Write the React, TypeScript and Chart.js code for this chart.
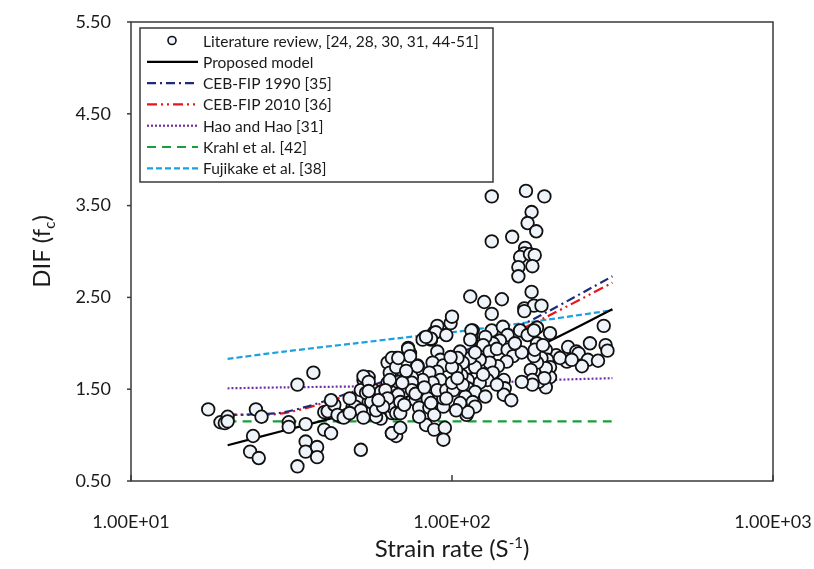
import React, { useEffect, useRef } from "react";
import { Chart, registerables } from "chart.js";
Chart.register(...registerables);

const FONT = "Lato, 'Open Sans', sans-serif";

// Axis ticks
const xTickValues = [10, 100, 1000];
const xTickLabels = ["1.00E+01", "1.00E+02", "1.00E+03"];
const yTickValues = [0.5, 1.5, 2.5, 3.5, 4.5, 5.5];
const yTickLabels = ["0.50", "1.50", "2.50", "3.50", "4.50", "5.50"];

// Literature review points: [strain rate, DIF]
const literaturePoints: [number, number][] = [
  [17.4, 1.28], [19, 1.14], [20, 1.2], [19.6, 1.13], [20, 1.15], [24.5, 1.28], [25.5, 1.2], [24, 0.99],
  [23.5, 0.82], [25, 0.75], [33, 1.55], [37, 1.68], [31, 1.14], [31, 1.09], [35, 1.12], [35, 0.93],
  [35, 0.82], [38, 0.87], [38, 0.76], [33, 0.66], [40, 1.06], [42, 1.02], [40, 1.25], [41, 1.26],
  [52, 0.84], [43, 1.33], [42, 1.38], [45, 1.2], [47, 1.22], [49, 1.3], [51, 1.4], [53, 1.6],
  [55, 1.63], [57, 1.49], [52, 1.49], [50, 1.31], [55, 1.36], [56, 1.27], [60, 1.3], [60, 1.18],
  [58, 1.2], [62, 1.42], [63, 1.57], [65, 1.63], [67, 1.84], [63, 1.79], [65, 1.02], [67, 0.99],
  [65, 1.24], [53, 1.64], [55, 1.58], [54, 1.46], [52, 1.27], [53, 1.19], [56, 1.36], [58, 1.27],
  [60, 1.47], [63, 1.38], [65, 1.31], [67, 1.24], [55, 1.48], [48, 1.4], [44, 1.22], [46, 1.19],
  [48, 1.24], [64, 1.68], [68, 1.58],
  [65, 1.84], [67, 1.74], [73, 1.95], [74, 1.89], [78, 1.76], [82, 2.06], [86, 2.04], [88, 2.12],
  [90, 1.91], [92, 1.82], [87, 1.79], [94, 1.76], [90, 1.69], [92, 1.6], [85, 1.68], [87, 1.57],
  [81, 1.6], [75, 1.63], [75, 1.57], [80, 1.49], [75, 1.49], [70, 1.57], [64, 1.6], [62, 1.49],
  [68, 1.44], [69, 1.36], [63, 1.4], [61, 1.31], [69, 1.24], [77, 1.38], [79, 1.3], [84, 1.4],
  [85, 1.3], [88, 1.22], [94, 1.31], [94, 1.4], [90, 1.49], [96, 1.49], [65, 1.02], [69, 1.08],
  [83, 1.11], [88, 1.06], [95, 1.08], [94, 0.95], [73, 1.94], [74, 1.86], [78, 1.75], [68, 1.84],
  [84, 2.07], [81, 2.04], [90, 2.19], [89, 2.12], [96, 2.09], [99, 2.22], [100, 2.29], [86, 2.05],
  [83, 2.07], [72, 1.7], [77, 1.45], [82, 1.52], [71, 1.33], [86, 1.35], [79, 1.2], [59, 1.38],
  [111, 1.22], [112, 1.31], [133, 2.14], [144, 2.18], [149, 2.09], [141, 2.03], [134, 2.0], [127, 2.07],
  [116, 2.14], [115, 2.06], [122, 1.93], [125, 1.98], [131, 1.91], [138, 1.94], [149, 1.93], [155, 1.86],
  [148, 1.8], [139, 1.75], [131, 1.79], [122, 1.82], [118, 1.74], [114, 1.84], [108, 1.79], [106, 1.91],
  [104, 1.84], [118, 1.9], [134, 1.68], [129, 1.6], [145, 1.6], [146, 1.51], [145, 1.44], [153, 1.38],
  [122, 1.57], [112, 1.6], [112, 1.51], [118, 1.47], [110, 1.42], [116, 1.36], [118, 1.31], [112, 1.25],
  [106, 1.35], [103, 1.27], [101, 1.49], [107, 1.65], [103, 1.71], [100, 1.57], [96, 1.4], [100, 1.74],
  [99, 1.85], [114, 2.51], [126, 2.45], [143, 2.48], [133, 2.32], [115, 2.14], [114, 2.04],
  [108, 1.55], [125, 1.66], [138, 1.55], [127, 1.42], [104, 1.62],
  [177, 2.56], [168, 2.38], [180, 2.41], [190, 2.41], [168, 2.35], [133, 3.6], [170, 3.66], [194, 3.6],
  [177, 3.43], [172, 3.31], [183, 3.22], [133, 3.11], [154, 3.16], [169, 3.04], [168, 2.98], [163, 2.94],
  [175, 2.97], [181, 2.96], [161, 2.83], [178, 2.84], [161, 2.73],
  [202, 2.11], [297, 2.19], [269, 2.0], [301, 1.98], [305, 1.92], [230, 1.96], [244, 1.91], [248, 1.89],
  [265, 1.82], [285, 1.81], [254, 1.75], [228, 1.8], [211, 1.87], [196, 1.93], [198, 1.82], [202, 1.74],
  [190, 1.84], [196, 1.65], [202, 1.63], [196, 1.52], [186, 1.58], [184, 2.0], [184, 2.17], [217, 1.84],
  [236, 1.82], [196, 1.73], [194, 1.62], [184, 1.79], [176, 1.71], [178, 1.6], [178, 1.55], [165, 1.58],
  [180, 1.86], [181, 1.93], [165, 1.9], [157, 2.0], [163, 2.14], [172, 2.09], [180, 2.14], [192, 1.98],
];

// Model curves
const modelRates = [20, 30, 50, 70, 100, 150, 200, 316];
const proposedDIF = [0.89, 1.05, 1.25, 1.4, 1.6, 1.83, 2.02, 2.37];
const ceb1990DIF = [1.22, 1.25, 1.48, 1.66, 1.86, 2.13, 2.35, 2.73];
const ceb2010DIF = [1.22, 1.24, 1.46, 1.63, 1.83, 2.09, 2.3, 2.66];
const haoDIF = [1.51, 1.52, 1.53, 1.54, 1.56, 1.58, 1.6, 1.62];
const krahlDIF = [1.15, 1.15, 1.15, 1.15, 1.15, 1.15, 1.15, 1.15];
const fujikakeDIF = [1.83, 1.91, 2.0, 2.06, 2.12, 2.2, 2.26, 2.36];

const seriesLabels = [
  "Literature review, [24, 28, 30, 31, 44-51]",
  "Proposed model",
  "CEB-FIP 1990 [35]",
  "CEB-FIP 2010 [36]",
  "Hao and Hao [31]",
  "Krahl et al. [42]",
  "Fujikake et al. [38]",
];

const toXY = (ys: number[]) => modelRates.map((x, i) => ({ x, y: ys[i] }));

const lineStyles = [
  { data: proposedDIF, color: "#000000", dash: [] as number[], width: 2.2 },
  { data: ceb1990DIF, color: "#1f2a7a", dash: [9, 4, 2, 4], width: 2.2 },
  { data: ceb2010DIF, color: "#e8141c", dash: [10, 4, 2, 4, 2, 4], width: 2.2 },
  { data: haoDIF, color: "#7030a0", dash: [2, 2], width: 2.2 },
  { data: krahlDIF, color: "#1a9e3a", dash: [9, 6], width: 2.2 },
  { data: fujikakeDIF, color: "#1ba0e2", dash: [6, 3], width: 2.2 },
];

const decorPlugin = {
  id: "decor",
  afterDatasetsDraw(chart: any) {
    const { ctx, chartArea: a, scales } = chart;
    ctx.save();
    ctx.strokeStyle = "#3a3a3a";
    ctx.lineWidth = 1.5;
    ctx.strokeRect(a.left, a.top, a.right - a.left, a.bottom - a.top);
    scales.y.ticks.forEach((t: any) => {
      const py = scales.y.getPixelForValue(t.value);
      ctx.beginPath();
      ctx.moveTo(a.left - 4, py);
      ctx.lineTo(a.left, py);
      ctx.stroke();
    });
    scales.x.ticks.forEach((t: any) => {
      const px = scales.x.getPixelForValue(t.value);
      ctx.beginPath();
      ctx.moveTo(px, a.bottom);
      ctx.lineTo(px, a.bottom - 6);
      ctx.stroke();
    });
    ctx.restore();
  },
  afterDraw(chart: any) {
    const { ctx, chartArea: a } = chart;
    ctx.save();
    ctx.fillStyle = "#1a1a1a";
    ctx.textBaseline = "alphabetic";

    // Y title: DIF (f_c)
    ctx.translate(50, (a.top + a.bottom) / 2);
    ctx.rotate(-Math.PI / 2);
    const big = `24px ${FONT}`;
    const small = `15px ${FONT}`;
    ctx.font = big;
    const p1 = "DIF (f";
    const p3 = ")";
    const w1 = ctx.measureText(p1).width;
    const w3 = ctx.measureText(p3).width;
    ctx.font = small;
    const w2 = ctx.measureText("c").width;
    const sx = -(w1 + w2 + w3) / 2;
    ctx.font = big;
    ctx.fillText(p1, sx, 0);
    ctx.font = small;
    ctx.fillText("c", sx + w1, 5);
    ctx.font = big;
    ctx.fillText(p3, sx + w1 + w2, 0);
    ctx.restore();

    // X title: Strain rate (S^-1)
    ctx.save();
    ctx.fillStyle = "#1a1a1a";
    const q1 = "Strain rate (S";
    const q2 = "-1";
    const q3 = ")";
    ctx.font = big;
    const v1 = ctx.measureText(q1).width;
    const v3 = ctx.measureText(q3).width;
    ctx.font = small;
    const v2 = ctx.measureText(q2).width;
    const cx = (a.left + a.right) / 2;
    const tx = cx - (v1 + v2 + v3) / 2;
    const ty = 557;
    ctx.font = big;
    ctx.fillText(q1, tx, ty);
    ctx.font = small;
    ctx.fillText(q2, tx + v1, ty - 9);
    ctx.font = big;
    ctx.fillText(q3, tx + v1 + v2, ty);
    ctx.restore();

    // Legend
    ctx.save();
    const bx = 140, by = 28, bw = 353, bh = 154;
    ctx.fillStyle = "#ffffff";
    ctx.fillRect(bx, by, bw, bh);
    ctx.strokeStyle = "#3a3a3a";
    ctx.lineWidth = 1.5;
    ctx.strokeRect(bx, by, bw, bh);
    const rowH = 21.3;
    const y0 = 40.5;
    ctx.font = `15.5px ${FONT}`;
    ctx.textBaseline = "middle";
    seriesLabels.forEach((label, i) => {
      const yy = y0 + i * rowH;
      if (i === 0) {
        ctx.beginPath();
        ctx.arc(172, yy, 4, 0, Math.PI * 2);
        ctx.fillStyle = "#eef4fa";
        ctx.fill();
        ctx.strokeStyle = "#111";
        ctx.lineWidth = 1.6;
        ctx.stroke();
      } else {
        const st = lineStyles[i - 1];
        ctx.beginPath();
        ctx.setLineDash(st.dash);
        ctx.strokeStyle = st.color;
        ctx.lineWidth = 2.2;
        ctx.moveTo(147, yy);
        ctx.lineTo(198, yy);
        ctx.stroke();
        ctx.setLineDash([]);
      }
      ctx.fillStyle = "#1a1a1a";
      ctx.fillText(label, 203, yy + 1);
    });
    ctx.restore();
  },
};

export default function App() {
  const ref = useRef<HTMLCanvasElement | null>(null);
  useEffect(() => {
    if (!ref.current) return;
    const datasets: any[] = [
      {
        type: "scatter",
        label: seriesLabels[0],
        data: literaturePoints.map(([x, y]) => ({ x, y })),
        pointRadius: 6.3,
        pointBackgroundColor: "#eef4fa",
        pointBorderColor: "#111111",
        pointBorderWidth: 1.8,
        showLine: false,
      },
      ...lineStyles.map((s, i) => ({
        type: "line",
        label: seriesLabels[i + 1],
        data: toXY(s.data),
        borderColor: s.color,
        borderDash: s.dash,
        borderWidth: s.width,
        pointRadius: 0,
        fill: false,
        tension: 0.3,
      })),
    ];
    const chart = new Chart(ref.current, {
      type: "scatter",
      data: { datasets },
      options: {
        animation: false,
        responsive: true,
        maintainAspectRatio: false,
        layout: { padding: { left: 0, right: 41, top: 22, bottom: 0 } },
        plugins: { legend: { display: false }, tooltip: { enabled: false } },
        scales: {
          x: {
            type: "logarithmic",
            min: 10,
            max: 1000,
            afterBuildTicks: (s: any) => {
              s.ticks = xTickValues.map((v) => ({ value: v }));
            },
            afterFit: (s: any) => {
              s.height = 88;
              s.paddingLeft = 0;
              s.paddingRight = 0;
              s.paddingTop = 0;
              s.paddingBottom = 0;
            },
            ticks: {
              autoSkip: false,
              maxRotation: 0,
              padding: 30,
              color: "#1a1a1a",
              font: { family: FONT, size: 18 },
              callback: (v: any) => xTickLabels[xTickValues.indexOf(Number(v))] ?? "",
            },
            grid: { display: false, drawTicks: false },
            border: { display: false },
          },
          y: {
            type: "linear",
            min: 0.5,
            max: 5.5,
            afterBuildTicks: (s: any) => {
              s.ticks = yTickValues.map((v) => ({ value: v }));
            },
            afterFit: (s: any) => {
              s.width = 131;
              s.paddingLeft = 0;
              s.paddingRight = 0;
              s.paddingTop = 0;
              s.paddingBottom = 0;
            },
            ticks: {
              padding: 20,
              color: "#1a1a1a",
              font: { family: FONT, size: 18 },
              callback: (v: any) => yTickLabels[yTickValues.indexOf(Number(v))] ?? "",
            },
            grid: { display: false, drawTicks: false },
            border: { display: false },
          },
        },
      },
      plugins: [decorPlugin],
    } as any);
    return () => chart.destroy();
  }, []);
  return (
    <div style={{ position: "fixed", left: 0, top: 0, width: 814, height: 569, background: "#fff" }}>
      <canvas ref={ref} />
    </div>
  );
}
